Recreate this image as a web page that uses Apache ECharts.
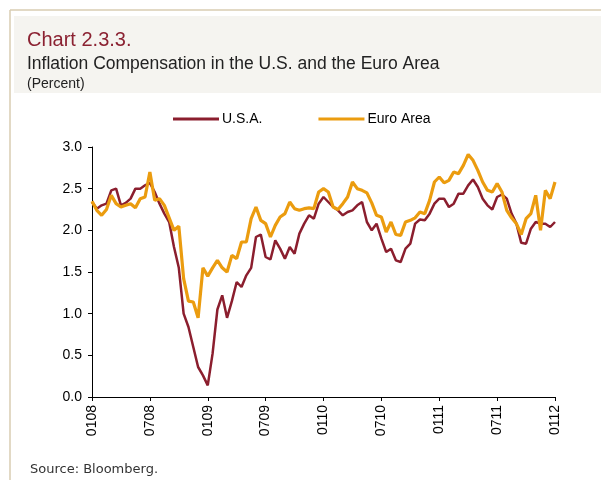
<!DOCTYPE html>
<html><head><meta charset="utf-8">
<script src="https://cdn.jsdelivr.net/npm/echarts@6/dist/echarts.min.js"></script>
<style>html,body{margin:0;padding:0;background:#fff}#c{width:601px;height:480px}</style>
</head><body><div id="c"></div>
<script>
// half-monthly observations starting January 2008 (step = 0.5 month)
const stepMonths = 0.5;
const xTickLabels = ["0108","0708","0109","0709","0110","0710","0111","0711","0112"];
const yTicks = [0,0.5,1,1.5,2,2.5,3];
const seriesNames = ["U.S.A.","Euro Area"];
const usa = [2.34,2.26,2.30,2.32,2.48,2.50,2.30,2.33,2.38,2.50,2.50,2.54,2.57,2.46,2.32,2.20,2.10,1.80,1.55,1.00,
0.84,0.60,0.36,0.26,0.14,0.52,1.05,1.22,0.95,1.15,1.38,1.32,1.46,1.55,1.92,1.95,1.68,1.65,1.88,1.78,
1.66,1.80,1.72,1.96,2.08,2.18,2.14,2.32,2.40,2.34,2.28,2.24,2.18,2.22,2.24,2.30,2.34,2.10,2.00,2.08,
1.90,1.74,1.78,1.64,1.62,1.78,1.84,2.08,2.13,2.12,2.20,2.32,2.38,2.38,2.28,2.32,2.44,2.44,2.54,2.61,
2.52,2.38,2.30,2.25,2.40,2.43,2.38,2.20,2.08,1.85,1.84,2.02,2.10,2.08,2.08,2.04,2.10];
const euro = [2.35,2.24,2.18,2.25,2.42,2.32,2.28,2.30,2.32,2.27,2.38,2.40,2.70,2.36,2.38,2.30,2.15,2.00,2.05,1.42,
1.15,1.14,0.95,1.55,1.45,1.55,1.64,1.55,1.50,1.70,1.66,1.86,1.86,2.14,2.28,2.12,2.08,1.92,2.06,2.16,
2.20,2.34,2.26,2.24,2.26,2.27,2.26,2.46,2.50,2.46,2.28,2.25,2.32,2.40,2.58,2.50,2.48,2.45,2.33,2.18,
2.16,1.98,2.10,1.95,1.94,2.10,2.12,2.15,2.22,2.20,2.36,2.58,2.64,2.57,2.60,2.70,2.68,2.78,2.91,2.84,
2.72,2.58,2.48,2.46,2.56,2.46,2.24,2.15,2.08,1.95,2.14,2.20,2.42,2.00,2.48,2.38,2.58];

const toPairs = arr => arr.map((v,i)=>[i*stepMonths, v]);
const chart = echarts.init(document.getElementById('c'), null, {renderer:'canvas'});
const axisFont = {fontFamily:'Liberation Sans, Arial, sans-serif', fontSize:14, color:'#000'};
chart.setOption({
  animation:false,
  backgroundColor:'#fff',
  graphic:[
    {type:'line', shape:{x1:10,y1:10,x2:601,y2:10}, style:{stroke:'#d8ccb2',lineWidth:1.5}},
    {type:'line', shape:{x1:10,y1:10,x2:10,y2:480}, style:{stroke:'#d8ccb2',lineWidth:1.5}},
    {type:'rect', shape:{x:14,y:16,width:587,height:77}, style:{fill:'#f5f4f0'}},
    {type:'text', left:27, top:30, style:{text:'Chart 2.3.3.', fill:'#8b2232', font:'20px "Liberation Sans", Arial, sans-serif'}},
    {type:'text', left:27, top:55, style:{text:'Inflation Compensation in the U.S. and the Euro Area', fill:'#222', font:'17.5px "Liberation Sans", Arial, sans-serif'}},
    {type:'text', left:27, top:77, style:{text:'(Percent)', fill:'#222', font:'14px "Liberation Sans", Arial, sans-serif'}},
    {type:'text', left:30, top:463, style:{text:'Source: Bloomberg.', fill:'#333', font:'13px "DejaVu Sans", sans-serif'}}
  ],
  legend:{
    top:107, left:168, itemWidth:46, itemHeight:3, itemGap:56, icon:'rect',
    textStyle:{fontFamily:'Liberation Sans, Arial, sans-serif', fontSize:14, color:'#000', padding:[0,0,0,-2]},
    data:seriesNames
  },
  grid:{left:92, right:46, top:147, bottom:83, containLabel:false},
  xAxis:{
    type:'value', min:0, max:48, interval:6,
    axisLine:{lineStyle:{color:'#000',width:1}},
    axisTick:{length:4, lineStyle:{color:'#000'}},
    splitLine:{show:false},
    axisLabel:Object.assign({rotate:90, margin:8, formatter:v=>xTickLabels[Math.round(v/6)]}, axisFont)
  },
  yAxis:{
    type:'value', min:yTicks[0], max:yTicks[yTicks.length-1], interval:0.5,
    axisLine:{show:true, lineStyle:{color:'#000',width:1}},
    axisTick:{show:true, length:4, lineStyle:{color:'#000'}},
    splitLine:{show:false},
    axisLabel:Object.assign({margin:10, formatter:v=>v.toFixed(1)}, axisFont)
  },
  series:[
    {name:seriesNames[0], type:'line', data:toPairs(usa), showSymbol:false, symbol:'none',
     lineStyle:{color:'#8b1e2e', width:2.5}, itemStyle:{color:'#8b1e2e'}, z:2},
    {name:seriesNames[1], type:'line', data:toPairs(euro), showSymbol:false, symbol:'none',
     lineStyle:{color:'#eb9c0f', width:3.2}, itemStyle:{color:'#eb9c0f'}, z:3}
  ]
});
</script></body></html>
